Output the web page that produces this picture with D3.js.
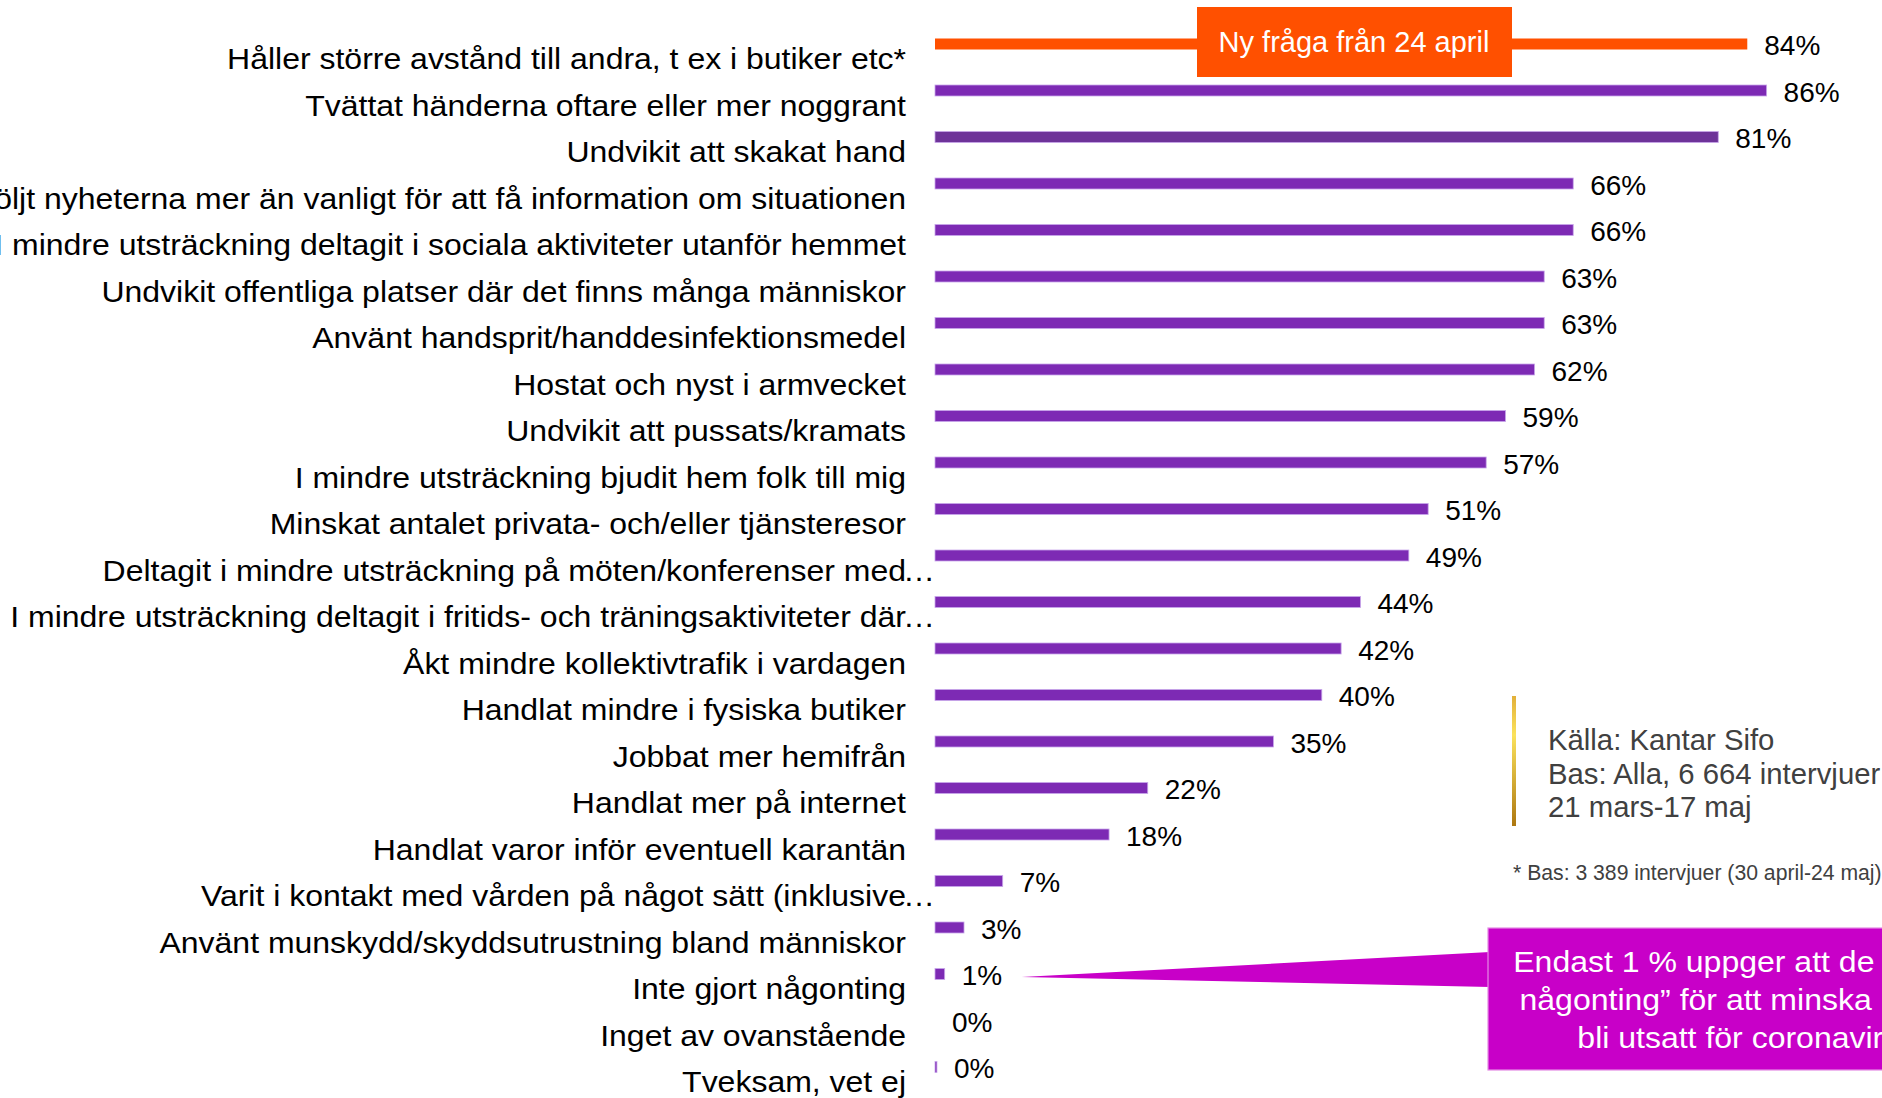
<!DOCTYPE html>
<html>
<head>
<meta charset="utf-8">
<script src="https://cdn.jsdelivr.net/npm/d3@7"></script>
<style>
    body { margin: 0; background: #fff; }
    svg { display: block; font-family: "Liberation Sans", Arial, sans-serif; }
</style>
</head>
<body>
<svg id="chart" width="1882" height="1098"></svg>
<script>
const categories = [
    "Håller större avstånd till andra, t ex i butiker etc*",
    "Tvättat händerna oftare eller mer noggrant",
    "Undvikit att skakat hand",
    "Följt nyheterna mer än vanligt för att få information om situationen",
    "I mindre utsträckning deltagit i sociala aktiviteter utanför hemmet",
    "Undvikit offentliga platser där det finns många människor",
    "Använt handsprit/handdesinfektionsmedel",
    "Hostat och nyst i armvecket",
    "Undvikit att pussats/kramats",
    "I mindre utsträckning bjudit hem folk till mig",
    "Minskat antalet privata- och/eller tjänsteresor",
    "Deltagit i mindre utsträckning på möten/konferenser med…",
    "I mindre utsträckning deltagit i fritids- och träningsaktiviteter där…",
    "Åkt mindre kollektivtrafik i vardagen",
    "Handlat mindre i fysiska butiker",
    "Jobbat mer hemifrån",
    "Handlat mer på internet",
    "Handlat varor inför eventuell karantän",
    "Varit i kontakt med vården på något sätt (inklusive…",
    "Använt munskydd/skyddsutrustning bland människor",
    "Inte gjort någonting",
    "Inget av ovanstående",
    "Tveksam, vet ej"
];

const values = [84, 86, 81, 66, 66, 63, 63, 62, 59, 57, 51, 49, 44, 42, 40, 35, 22, 18, 7, 3, 1, 0, 0.2];

// questions added later in the survey (drawn in orange)
const newQuestions = ["Håller större avstånd till andra, t ex i butiker etc*"];
const newQuestionNote = "Ny fråga från 24 april";

const sourceLines = ["Källa: Kantar Sifo", "Bas: Alla, 6 664 intervjuer", "21 mars-17 maj"];
const footnote = "* Bas: 3 389 intervjuer (30 april-24 maj)";

const calloutCategory = "Inte gjort någonting";
const calloutLines = [
    "Endast 1 % uppger att de ”inte gjort",
    "någonting” för att minska risken att",
    "bli utsatt för coronaviruset."
];

class Barchart {
    constructor() {
        this.svg = d3.select("#chart");
        this.labelRight = 906;
        this.barHeight = 11;
        this.purple = "#7d2ab4";
        this.orange = "#ff5000";
        this.magenta = "#c800c8";
        // the slide text is slightly stretched horizontally
        this.stretch = 1.056;

        this.x = d3.scaleLinear()
            .domain([0, 100])
            .range([935, 1902]);

        this.y = d3.scalePoint()
            .domain(categories)
            .range([44, 1067]);

        this.data = categories.map((c, i) => ({ cat: c, value: values[i] }));

        this.drawBars();
        this.drawLabels();
        this.drawNewQuestionNote();
        this.drawSource();
        this.drawCallout();
    }

    drawBars() {
        let that = this;
        this.svg.append("g")
            .selectAll("rect")
            .data(this.data.filter(d => d.value > 0))
            .join("rect")
            .attr("x", that.x(0))
            .attr("y", d => that.y(d.cat) - that.barHeight / 2)
            .attr("width", d => that.x(d.value) - that.x(0))
            .attr("height", that.barHeight)
            .attr("fill", d => newQuestions.includes(d.cat) ? that.orange
                : (d.cat === "Undvikit att skakat hand" ? "#6e3399" : that.purple))
            .attr("stroke", d => newQuestions.includes(d.cat) ? "none" : "#c8a6ea")
            .attr("stroke-width", 0.8);

        // value labels
        this.svg.append("g")
            .selectAll("text")
            .data(this.data)
            .join("text")
            .attr("x", d => that.x(d.value) + 17)
            .attr("y", d => that.y(d.cat) + 11)
            .attr("font-size", 28)
            .attr("fill", "#000")
            .text(d => Math.round(d.value) + "%");
    }

    drawLabels() {
        let that = this;
        let g = this.svg.append("g").attr("font-size", 30.3).attr("fill", "#000");

        g.selectAll("text.cat")
            .data(this.data)
            .join("text")
            .attr("class", "cat")
            .attr("transform", d => `translate(${that.labelRight},${that.y(d.cat) + 25}) scale(${that.stretch},1)`)
            .attr("text-anchor", "end")
            .text(d => d.cat.replace("…", ""));

        // truncated labels: the ellipsis hangs past the right edge
        g.selectAll("text.ell")
            .data(this.data.filter(d => d.cat.endsWith("…")))
            .join("text")
            .attr("class", "ell")
            .attr("transform", d => `translate(${that.labelRight - 3},${that.y(d.cat) + 25}) scale(${that.stretch},1)`)
            .text("…");
    }

    drawNewQuestionNote() {
        let cy = this.y(newQuestions[0]);
        let g = this.svg.append("g");
        g.append("rect")
            .attr("x", 1197)
            .attr("y", cy - 37)
            .attr("width", 315)
            .attr("height", 70)
            .attr("fill", this.orange);
        g.append("text")
            .attr("x", 1354)
            .attr("y", cy + 8)
            .attr("text-anchor", "middle")
            .attr("font-size", 29)
            .attr("fill", "#fff")
            .text(newQuestionNote);
    }

    drawSource() {
        let defs = this.svg.append("defs");
        let grad = defs.append("linearGradient")
            .attr("id", "gold")
            .attr("x1", 0).attr("y1", 0).attr("x2", 0).attr("y2", 1);
        grad.append("stop").attr("offset", "0%").attr("stop-color", "#e2b03a");
        grad.append("stop").attr("offset", "30%").attr("stop-color", "#fbe25c");
        grad.append("stop").attr("offset", "100%").attr("stop-color", "#ad7710");

        this.svg.append("rect")
            .attr("x", 1512)
            .attr("y", 696)
            .attr("width", 4)
            .attr("height", 130)
            .attr("fill", "url(#gold)");

        this.svg.append("g")
            .selectAll("text")
            .data(sourceLines)
            .join("text")
            .attr("x", 1548)
            .attr("y", (d, i) => 750 + i * 33.5)
            .attr("font-size", 29.3)
            .attr("fill", "#404040")
            .text(d => d);

        this.svg.append("text")
            .attr("x", 1513)
            .attr("y", 880)
            .attr("font-size", 21.2)
            .attr("fill", "#404040")
            .text(footnote);
    }

    drawCallout() {
        let cy = this.y(calloutCategory);
        let tipX = this.x(values[categories.indexOf(calloutCategory)]) + 77;
        let g = this.svg.append("g");

        g.append("polygon")
            .attr("points", [[tipX, cy + 3], [1490, cy - 22], [1490, cy + 13]].join(" "))
            .attr("fill", this.magenta);

        g.append("rect")
            .attr("x", 1488)
            .attr("y", 928)
            .attr("width", 560)
            .attr("height", 142)
            .attr("fill", this.magenta)
            .attr("stroke", "#e48ae4")
            .attr("stroke-width", 1.2);

        g.selectAll("text")
            .data(calloutLines)
            .join("text")
            .attr("transform", (d, i) => `translate(1765,${972 + i * 38}) scale(1.067,1)`)
            .attr("text-anchor", "middle")
            .attr("font-size", 30)
            .attr("fill", "#fff")
            .text(d => d);
    }
}

new Barchart();
</script>
</body>
</html>
